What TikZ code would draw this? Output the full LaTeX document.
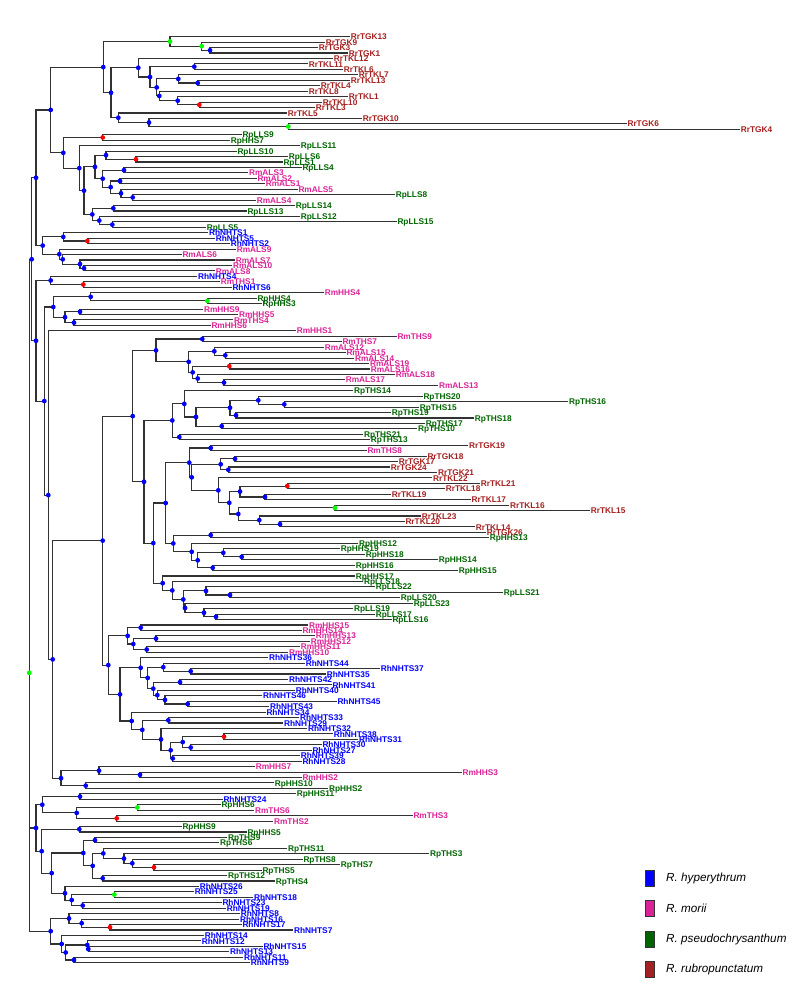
\documentclass[tikz,border=0pt]{standalone}
\usepackage{fontspec}
\setmainfont{Liberation Sans}
\usetikzlibrary{calc}
\pgfdeclarelayer{fg}
\pgfsetlayers{main,fg}
\definecolor{Rr}{RGB}{165,32,32}
\definecolor{Rp}{RGB}{0,100,0}
\definecolor{Rm}{RGB}{218,35,150}
\definecolor{Rh}{RGB}{0,0,255}
\definecolor{brc}{RGB}{50,50,50}
\definecolor{dblue}{RGB}{0,0,255}
\definecolor{dred}{RGB}{255,0,0}
\definecolor{dgreen}{RGB}{0,255,0}
\tikzset{
  br/.style={draw=brc,line width=1.1pt},
  lab/.style={anchor=base west,yshift=-3.1pt,inner sep=0.6pt,font=\fontsize{8.3}{9}\selectfont\bfseries},
  legtxt/.style={anchor=west,inner sep=0pt,font=\fontsize{11.7}{13}\selectfont\itshape},
  legbox/.style={draw=brc,line width=0.8pt},
}
\newcommand\lf[4]{\coordinate (#2) at (#3,{31.253+5.447*#1});
  \node[lab,text=#4] (#2-l) at (#2) {#2};}
\newcommand\nd[5]{%
  \path let \p1=(#3), \p2=(#4) in (#2,{(\y1+\y2)/2}) coordinate (#1);
  \draw[br] (#3) -| (#1) |- (#4);
  \begin{pgfonlayer}{fg}\fill[d#5] (#1) circle (2.4pt);\end{pgfonlayer}}
\begin{document}
\begin{tikzpicture}[x=1pt,y=-1pt]
\useasboundingbox (0,0) rectangle (800,1000);
% leaves
\lf{1}{RrTGK13}{350}{Rr}
\lf{2}{RrTGK9}{325}{Rr}
\lf{3}{RrTGK3}{318}{Rr}
\lf{4}{RrTGK1}{348}{Rr}
\lf{5}{RrTKL12}{333}{Rr}
\lf{6}{RrTKL11}{308}{Rr}
\lf{7}{RrTKL6}{343}{Rr}
\lf{8}{RrTKL7}{358}{Rr}
\lf{9}{RrTKL13}{350}{Rr}
\lf{10}{RrTKL4}{320}{Rr}
\lf{11}{RrTKL8}{308}{Rr}
\lf{12}{RrTKL1}{348}{Rr}
\lf{13}{RrTKL10}{322}{Rr}
\lf{14}{RrTKL3}{315}{Rr}
\lf{15}{RrTKL5}{287}{Rr}
\lf{16}{RrTGK10}{362}{Rr}
\lf{17}{RrTGK6}{626.7}{Rr}
\lf{18}{RrTGK4}{740}{Rr}
\lf{19}{RpLLS9}{241.7}{Rp}
\lf{20}{RpHHS7}{230}{Rp}
\lf{21}{RpLLS11}{300}{Rp}
\lf{22}{RpLLS10}{236.7}{Rp}
\lf{23}{RpLLS6}{288}{Rp}
\lf{24}{RpLLS1}{282.7}{Rp}
\lf{25}{RpLLS4}{301.7}{Rp}
\lf{26}{RmALS3}{248.3}{Rm}
\lf{27}{RmALS2}{256.7}{Rm}
\lf{28}{RmALS1}{265}{Rm}
\lf{29}{RmALS5}{297.7}{Rm}
\lf{30}{RpLLS8}{395}{Rp}
\lf{31}{RmALS4}{256}{Rm}
\lf{32}{RpLLS14}{295}{Rp}
\lf{33}{RpLLS13}{246.7}{Rp}
\lf{34}{RpLLS12}{300}{Rp}
\lf{35}{RpLLS15}{396.7}{Rp}
\lf{36}{RpLLS5}{206}{Rp}
\lf{37}{RhNHTS1}{208.3}{Rh}
\lf{38}{RhNHTS5}{215}{Rh}
\lf{39}{RhNHTS2}{230}{Rh}
\lf{40}{RmALS9}{236}{Rm}
\lf{41}{RmALS6}{181.7}{Rm}
\lf{42}{RmALS7}{235}{Rm}
\lf{43}{RmALS10}{232.3}{Rm}
\lf{44}{RmALS8}{215}{Rm}
\lf{45}{RhNHTS4}{197.3}{Rh}
\lf{46}{RmTHS1}{220}{Rm}
\lf{47}{RhNHTS6}{231.7}{Rh}
\lf{48}{RmHHS4}{324}{Rm}
\lf{49}{RpHHS4}{256.7}{Rp}
\lf{50}{RpHHS3}{261.7}{Rp}
\lf{51}{RmHHS9}{203.3}{Rm}
\lf{52}{RmHHS5}{238.3}{Rm}
\lf{53}{RmTHS4}{233.3}{Rm}
\lf{54}{RmHHS6}{210.7}{Rm}
\lf{55}{RmHHS1}{296}{Rm}
\lf{56}{RmTHS9}{396.7}{Rm}
\lf{57}{RmTHS7}{341.7}{Rm}
\lf{58}{RmALS12}{324}{Rm}
\lf{59}{RmALS15}{345.7}{Rm}
\lf{60}{RmALS14}{354.3}{Rm}
\lf{61}{RmALS19}{369.3}{Rm}
\lf{62}{RmALS16}{370}{Rm}
\lf{63}{RmALS18}{395}{Rm}
\lf{64}{RmALS17}{345}{Rm}
\lf{65}{RmALS13}{438.3}{Rm}
\lf{66}{RpTHS14}{353.3}{Rp}
\lf{67}{RpTHS20}{422.7}{Rp}
\lf{68}{RpTHS16}{568.3}{Rp}
\lf{69}{RpTHS15}{419}{Rp}
\lf{70}{RpTHS19}{391}{Rp}
\lf{71}{RpTHS18}{474}{Rp}
\lf{72}{RpTHS17}{425}{Rp}
\lf{73}{RpTHS10}{417.3}{Rp}
\lf{74}{RpTHS21}{363.3}{Rp}
\lf{75}{RpTHS13}{370}{Rp}
\lf{76}{RrTGK19}{468.3}{Rr}
\lf{77}{RmTHS8}{366.7}{Rm}
\lf{78}{RrTGK18}{426.7}{Rr}
\lf{79}{RrTGK17}{398}{Rr}
\lf{80}{RrTGK24}{390}{Rr}
\lf{81}{RrTGK21}{437.3}{Rr}
\lf{82}{RrTKL22}{432.3}{Rr}
\lf{83}{RrTKL21}{480}{Rr}
\lf{84}{RrTKL18}{445}{Rr}
\lf{85}{RrTKL19}{391}{Rr}
\lf{86}{RrTKL17}{470.7}{Rr}
\lf{87}{RrTKL16}{509.3}{Rr}
\lf{88}{RrTKL15}{590}{Rr}
\lf{89}{RrTKL23}{421}{Rr}
\lf{90}{RrTKL20}{404.7}{Rr}
\lf{91}{RrTKL14}{475}{Rr}
\lf{92}{RrTGK26}{486}{Rr}
\lf{93}{RpHHS13}{489}{Rp}
\lf{94}{RpHHS12}{358.3}{Rp}
\lf{95}{RpHHS19}{340}{Rp}
\lf{96}{RpHHS18}{365}{Rp}
\lf{97}{RpHHS14}{438}{Rp}
\lf{98}{RpHHS16}{355}{Rp}
\lf{99}{RpHHS15}{458}{Rp}
\lf{100}{RpHHS17}{355}{Rp}
\lf{101}{RpLLS18}{363.3}{Rp}
\lf{102}{RpLLS22}{375}{Rp}
\lf{103}{RpLLS21}{503}{Rp}
\lf{104}{RpLLS20}{400}{Rp}
\lf{105}{RpLLS23}{413}{Rp}
\lf{106}{RpLLS19}{353.3}{Rp}
\lf{107}{RpLLS17}{375}{Rp}
\lf{108}{RpLLS16}{391.7}{Rp}
\lf{109}{RmHHS15}{308.3}{Rm}
\lf{110}{RmHHS14}{301.7}{Rm}
\lf{111}{RmHHS13}{315}{Rm}
\lf{112}{RmHHS12}{310}{Rm}
\lf{113}{RmHHS11}{300}{Rm}
\lf{114}{RmHHS10}{288.3}{Rm}
\lf{115}{RhNHTS36}{268.3}{Rh}
\lf{116}{RhNHTS44}{305}{Rh}
\lf{117}{RhNHTS37}{380}{Rh}
\lf{118}{RhNHTS35}{326}{Rh}
\lf{119}{RhNHTS42}{288.3}{Rh}
\lf{120}{RhNHTS41}{331.7}{Rh}
\lf{121}{RhNHTS40}{295}{Rh}
\lf{122}{RhNHTS46}{262.3}{Rh}
\lf{123}{RhNHTS45}{336.7}{Rh}
\lf{124}{RhNHTS43}{269.3}{Rh}
\lf{125}{RhNHTS34}{265.7}{Rh}
\lf{126}{RhNHTS33}{299.3}{Rh}
\lf{127}{RhNHTS29}{283.3}{Rh}
\lf{128}{RhNHTS32}{307.3}{Rh}
\lf{129}{RhNHTS38}{333}{Rh}
\lf{130}{RhNHTS31}{358.3}{Rh}
\lf{131}{RhNHTS30}{321.7}{Rh}
\lf{132}{RhNHTS27}{311.7}{Rh}
\lf{133}{RhNHTS39}{300}{Rh}
\lf{134}{RhNHTS28}{301.7}{Rh}
\lf{135}{RmHHS7}{255}{Rm}
\lf{136}{RmHHS3}{461.7}{Rm}
\lf{137}{RmHHS2}{301.7}{Rm}
\lf{138}{RpHHS10}{274}{Rp}
\lf{139}{RpHHS2}{328.3}{Rp}
\lf{140}{RpHHS11}{296}{Rp}
\lf{141}{RhNHTS24}{222.7}{Rh}
\lf{142}{RpHHS6}{220.7}{Rp}
\lf{143}{RmTHS6}{254.3}{Rm}
\lf{144}{RmTHS3}{412.7}{Rm}
\lf{145}{RmTHS2}{273.3}{Rm}
\lf{146}{RpHHS9}{181.7}{Rp}
\lf{147}{RpHHS5}{246.7}{Rp}
\lf{148}{RpTHS9}{227.3}{Rp}
\lf{149}{RpTHS6}{219.3}{Rp}
\lf{150}{RpTHS11}{287.3}{Rp}
\lf{151}{RpTHS3}{429.3}{Rp}
\lf{152}{RpTHS8}{302.7}{Rp}
\lf{153}{RpTHS7}{340}{Rp}
\lf{154}{RpTHS5}{261.7}{Rp}
\lf{155}{RpTHS12}{227.3}{Rp}
\lf{156}{RpTHS4}{275}{Rp}
\lf{157}{RhNHTS26}{199}{Rh}
\lf{158}{RhNHTS25}{194}{Rh}
\lf{159}{RhNHTS18}{253.3}{Rh}
\lf{160}{RhNHTS23}{221.7}{Rh}
\lf{161}{RhNHTS19}{226}{Rh}
\lf{162}{RhNHTS8}{240}{Rh}
\lf{163}{RhNHTS16}{239.3}{Rh}
\lf{164}{RhNHTS17}{241.7}{Rh}
\lf{165}{RhNHTS7}{293.3}{Rh}
\lf{166}{RhNHTS14}{204}{Rh}
\lf{167}{RhNHTS12}{201}{Rh}
\lf{168}{RhNHTS15}{262.7}{Rh}
\lf{169}{RhNHTS13}{229.3}{Rh}
\lf{170}{RhNHTS11}{243.3}{Rh}
\lf{171}{RhNHTS9}{250}{Rh}
% internal nodes
\nd{g}{210}{RrTGK3}{RrTGK1}{blue}
\nd{f}{201.7}{RrTGK9}{g}{green}
\nd{d}{170}{RrTGK13}{f}{green}
\nd{k}{194.3}{RrTKL11}{RrTKL6}{blue}
\nd{o}{197.7}{RrTKL13}{RrTKL4}{blue}
\nd{m}{178.3}{RrTKL7}{o}{blue}
\nd{q}{199.3}{RrTKL10}{RrTKL3}{red}
\nd{p}{177.7}{RrTKL1}{q}{blue}
\nd{nn}{159.3}{RrTKL8}{p}{blue}
\nd{l}{156.7}{m}{nn}{blue}
\nd{j}{150}{k}{l}{blue}
\nd{h}{138.3}{RrTKL12}{j}{blue}
\nd{s}{288.3}{RrTGK6}{RrTGK4}{green}
\nd{r}{149}{RrTGK10}{s}{blue}
\nd{i}{118.3}{RrTKL5}{r}{blue}
\nd{e}{111}{h}{i}{blue}
\nd{b}{103.3}{d}{e}{blue}
\nd{t}{102.7}{RpLLS9}{RpHHS7}{red}
\nd{v1r}{136}{RpLLS6}{RpLLS1}{red}
\nd{v1}{106}{RpLLS10}{v1r}{blue}
\nd{v2a}{124}{RpLLS4}{RmALS3}{blue}
\nd{m120}{120}{RmALS2}{RmALS1}{blue}
\nd{m132}{132.7}{RpLLS8}{RmALS4}{blue}
\nd{m121}{121}{RmALS5}{m132}{blue}
\nd{m110}{110.7}{m120}{m121}{blue}
\nd{v2}{102.7}{v2a}{m110}{blue}
\nd{v}{95}{v1}{v2}{blue}
\nd{w1}{113.3}{RpLLS14}{RpLLS13}{blue}
\nd{w3}{112.3}{RpLLS15}{RpLLS5}{blue}
\nd{w2}{99.3}{RpLLS12}{w3}{blue}
\nd{w4}{92.3}{w1}{w2}{blue}
\nd{w}{84}{v}{w4}{blue}
\nd{u}{79.3}{RpLLS11}{w}{blue}
\nd{c}{63.3}{t}{u}{blue}
\nd{a}{50.7}{b}{c}{blue}
\nd{x1r}{87.3}{RhNHTS5}{RhNHTS2}{red}
\nd{x1}{63.3}{RhNHTS1}{x1r}{blue}
\nd{x2c}{84}{RmALS10}{RmALS8}{blue}
\nd{x2b}{80}{RmALS7}{x2c}{blue}
\nd{x2a}{62.7}{RmALS6}{x2b}{blue}
\nd{x2}{59.3}{RmALS9}{x2a}{blue}
\nd{x3}{42.7}{x1}{x2}{blue}
\nd{s1}{36}{a}{x3}{blue}
\nd{y1r}{83.3}{RmTHS1}{RhNHTS6}{red}
\nd{y1}{50.7}{RhNHTS4}{y1r}{blue}
\nd{y2g}{207.3}{RpHHS4}{RpHHS3}{green}
\nd{y2a}{90.7}{RmHHS4}{y2g}{blue}
\nd{y2b}{80}{RmHHS9}{RmHHS5}{blue}
\nd{y2c}{74}{RmTHS4}{RmHHS6}{blue}
\nd{y2d}{65}{y2b}{y2c}{blue}
\nd{y2}{53.3}{y2a}{y2d}{blue}
\nd{z1}{202.3}{RmTHS9}{RmTHS7}{blue}
\nd{z2}{225.3}{RmALS15}{RmALS14}{blue}
\nd{z3}{214.3}{RmALS12}{z2}{blue}
\nd{z4}{229.3}{RmALS19}{RmALS16}{red}
\nd{z5}{224}{RmALS17}{RmALS13}{blue}
\nd{z6}{197.7}{RmALS18}{z5}{blue}
\nd{z7}{192.7}{z4}{z6}{blue}
\nd{z8}{188.7}{z3}{z7}{blue}
\nd{z9}{156}{z1}{z8}{blue}
\nd{t1}{284.3}{RpTHS16}{RpTHS15}{blue}
\nd{t2}{258.3}{RpTHS20}{t1}{blue}
\nd{t3}{236}{RpTHS19}{RpTHS18}{blue}
\nd{t4}{230}{t2}{t3}{blue}
\nd{t5}{221.7}{RpTHS17}{RpTHS10}{blue}
\nd{t6}{196}{t4}{t5}{blue}
\nd{t7}{184.3}{RpTHS14}{t6}{blue}
\nd{t8}{179.3}{RpTHS21}{RpTHS13}{blue}
\nd{t9}{172.3}{t7}{t8}{blue}
\nd{k1}{210.7}{RrTGK19}{RmTHS8}{blue}
\nd{k2}{235}{RrTGK18}{RrTGK17}{blue}
\nd{k3}{228.3}{RrTGK24}{RrTGK21}{blue}
\nd{k4}{220.7}{k2}{k3}{blue}
\nd{k5}{287.3}{RrTKL21}{RrTKL18}{red}
\nd{k6}{265}{RrTKL19}{RrTKL17}{blue}
\nd{k7}{240}{k5}{k6}{blue}
\nd{k8}{335}{RrTKL16}{RrTKL15}{green}
\nd{k9}{280}{RrTKL20}{RrTKL14}{blue}
\nd{k10}{259.3}{RrTKL23}{k9}{blue}
\nd{k11}{238.3}{k8}{k10}{blue}
\nd{k12}{229.3}{k7}{k11}{blue}
\nd{k13}{218.3}{RrTKL22}{k12}{blue}
\nd{k14}{191.7}{k4}{k13}{blue}
\nd{k15}{189.3}{k1}{k14}{blue}
\nd{h1}{210.7}{RrTGK26}{RpHHS13}{blue}
\nd{h2}{241.7}{RpHHS18}{RpHHS14}{blue}
\nd{h3}{223.3}{RpHHS19}{h2}{blue}
\nd{h4}{212.7}{RpHHS16}{RpHHS15}{blue}
\nd{h5}{197.7}{h3}{h4}{blue}
\nd{h6}{191.7}{RpHHS12}{h5}{blue}
\nd{h7}{173.3}{h1}{h6}{blue}
\nd{h8}{165.7}{k15}{h7}{blue}
\nd{l1}{230}{RpLLS21}{RpLLS20}{blue}
\nd{l2}{206}{RpLLS22}{l1}{blue}
\nd{l3}{216}{RpLLS17}{RpLLS16}{blue}
\nd{l4}{204}{RpLLS19}{l3}{blue}
\nd{l5}{185}{RpLLS23}{l4}{blue}
\nd{l6}{183.3}{l2}{l5}{blue}
\nd{l7}{172.3}{RpLLS18}{l6}{blue}
\nd{l8}{162.7}{RpHHS17}{l7}{blue}
\nd{l9}{153.3}{h8}{l8}{blue}
\nd{l10}{144}{t9}{l9}{blue}
\nd{l11}{132.7}{z9}{l10}{blue}
\nd{m1}{140.7}{RmHHS15}{RmHHS14}{blue}
\nd{m2}{156}{RmHHS13}{RmHHS12}{blue}
\nd{m3}{146.7}{RmHHS11}{RmHHS10}{blue}
\nd{m4}{133.3}{m2}{m3}{blue}
\nd{m5}{127.7}{m1}{m4}{blue}
\nd{q1}{190.7}{RhNHTS37}{RhNHTS35}{blue}
\nd{q2}{163.3}{RhNHTS44}{q1}{blue}
\nd{q3}{180}{RhNHTS42}{RhNHTS41}{blue}
\nd{q4}{187.7}{RhNHTS45}{RhNHTS43}{blue}
\nd{q5}{165}{RhNHTS46}{q4}{blue}
\nd{q6}{157.3}{RhNHTS40}{q5}{blue}
\nd{q7}{153.3}{q3}{q6}{blue}
\nd{q8}{147.7}{q2}{q7}{blue}
\nd{q9}{140.7}{RhNHTS36}{q8}{blue}
\nd{r1}{168.3}{RhNHTS33}{RhNHTS29}{blue}
\nd{r2}{224}{RhNHTS38}{RhNHTS31}{red}
\nd{r3}{190.7}{RhNHTS30}{RhNHTS27}{blue}
\nd{r4}{182.7}{r2}{r3}{blue}
\nd{r5}{172.7}{RhNHTS39}{RhNHTS28}{blue}
\nd{r6}{170.7}{r4}{r5}{blue}
\nd{r7}{161}{RhNHTS32}{r6}{blue}
\nd{r8}{142.3}{r1}{r7}{blue}
\nd{r9}{131.7}{RhNHTS34}{r8}{blue}
\nd{r10}{120}{q9}{r9}{blue}
\nd{r11}{108.3}{m5}{r10}{blue}
\nd{zz}{102.7}{l11}{r11}{blue}
\nd{p1}{140}{RmHHS3}{RmHHS2}{blue}
\nd{p2}{99}{RmHHS7}{p1}{blue}
\nd{p3}{85.7}{RpHHS10}{RpHHS2}{blue}
\nd{p4}{61}{p2}{p3}{blue}
\nd{yy2}{52.7}{zz}{p4}{blue}
\nd{yy1}{48.3}{RmHHS1}{yy2}{blue}
\nd{sp1}{44.3}{y2}{yy1}{blue}
\nd{sp2}{36}{y1}{sp1}{blue}
\nd{sp3}{31.7}{s1}{sp2}{blue}
\nd{b1}{80}{RpHHS11}{RhNHTS24}{blue}
\nd{b2}{137.3}{RpHHS6}{RmTHS6}{green}
\nd{b3}{116.7}{RmTHS3}{RmTHS2}{red}
\nd{b4}{76.7}{b2}{b3}{blue}
\nd{b5}{42.3}{b1}{b4}{blue}
\nd{b6}{79.3}{RpHHS9}{RpHHS5}{blue}
\nd{b7}{95}{RpTHS9}{RpTHS6}{blue}
\nd{b8}{154}{RpTHS7}{RpTHS5}{red}
\nd{b9}{132.3}{RpTHS8}{b8}{blue}
\nd{b10}{124}{RpTHS3}{b9}{blue}
\nd{b11}{103.3}{RpTHS11}{b10}{blue}
\nd{b12}{102.7}{RpTHS12}{RpTHS4}{blue}
\nd{b13}{92.7}{b11}{b12}{blue}
\nd{b14}{83.3}{b7}{b13}{blue}
\nd{b15}{114.3}{RhNHTS25}{RhNHTS18}{green}
\nd{b16}{82.7}{RhNHTS23}{RhNHTS19}{blue}
\nd{b17}{71.7}{b15}{b16}{blue}
\nd{b18}{65}{RhNHTS26}{b17}{blue}
\nd{b19}{51.7}{b14}{b18}{blue}
\nd{b20}{41.7}{b6}{b19}{blue}
\nd{b21}{36}{b5}{b20}{blue}
\nd{c1}{110}{RhNHTS17}{RhNHTS7}{red}
\nd{c2}{81.7}{RhNHTS16}{c1}{blue}
\nd{c3}{69}{RhNHTS8}{c2}{blue}
\nd{c4}{88.3}{RhNHTS15}{RhNHTS13}{blue}
\nd{c5}{87.3}{RhNHTS12}{c4}{blue}
\nd{c6}{74}{RhNHTS11}{RhNHTS9}{blue}
\nd{c7}{65.7}{c5}{c6}{blue}
\nd{c8}{61.7}{RhNHTS14}{c7}{blue}
\nd{c9}{50.7}{c3}{c8}{blue}
% root (three children)
\path let \p1=(sp3), \p2=(b21), \p3=(c9) in (29.3,{(\y1+\y2+\y3)/3}) coordinate (root);
\draw[br] (sp3) -| (root) |- (c9);
\draw[br] (root) |- (b21);
\begin{pgfonlayer}{fg}\fill[dgreen] (root) circle (2.4pt);\end{pgfonlayer}
% legend
\node[legbox,fill=Rh,minimum width=9pt,minimum height=16pt,inner sep=0pt] (k-rh) at (650,878) {};
\node[legbox,fill=Rm,minimum width=9pt,minimum height=16pt,inner sep=0pt] (k-rm) at (650,908.5) {};
\node[legbox,fill=Rp,minimum width=9pt,minimum height=16pt,inner sep=0pt] (k-rp) at (650,939) {};
\node[legbox,fill=Rr,minimum width=9pt,minimum height=16pt,inner sep=0pt] (k-rr) at (650,969.5) {};
\node[legtxt] (t-rh) at (666,878) {R. hyperythrum};
\node[legtxt] (t-rm) at (666,908.5) {R. morii};
\node[legtxt] (t-rp) at (666,939) {R. pseudochrysanthum};
\node[legtxt] (t-rr) at (666,969.5) {R. rubropunctatum};
\end{tikzpicture}
\end{document}
